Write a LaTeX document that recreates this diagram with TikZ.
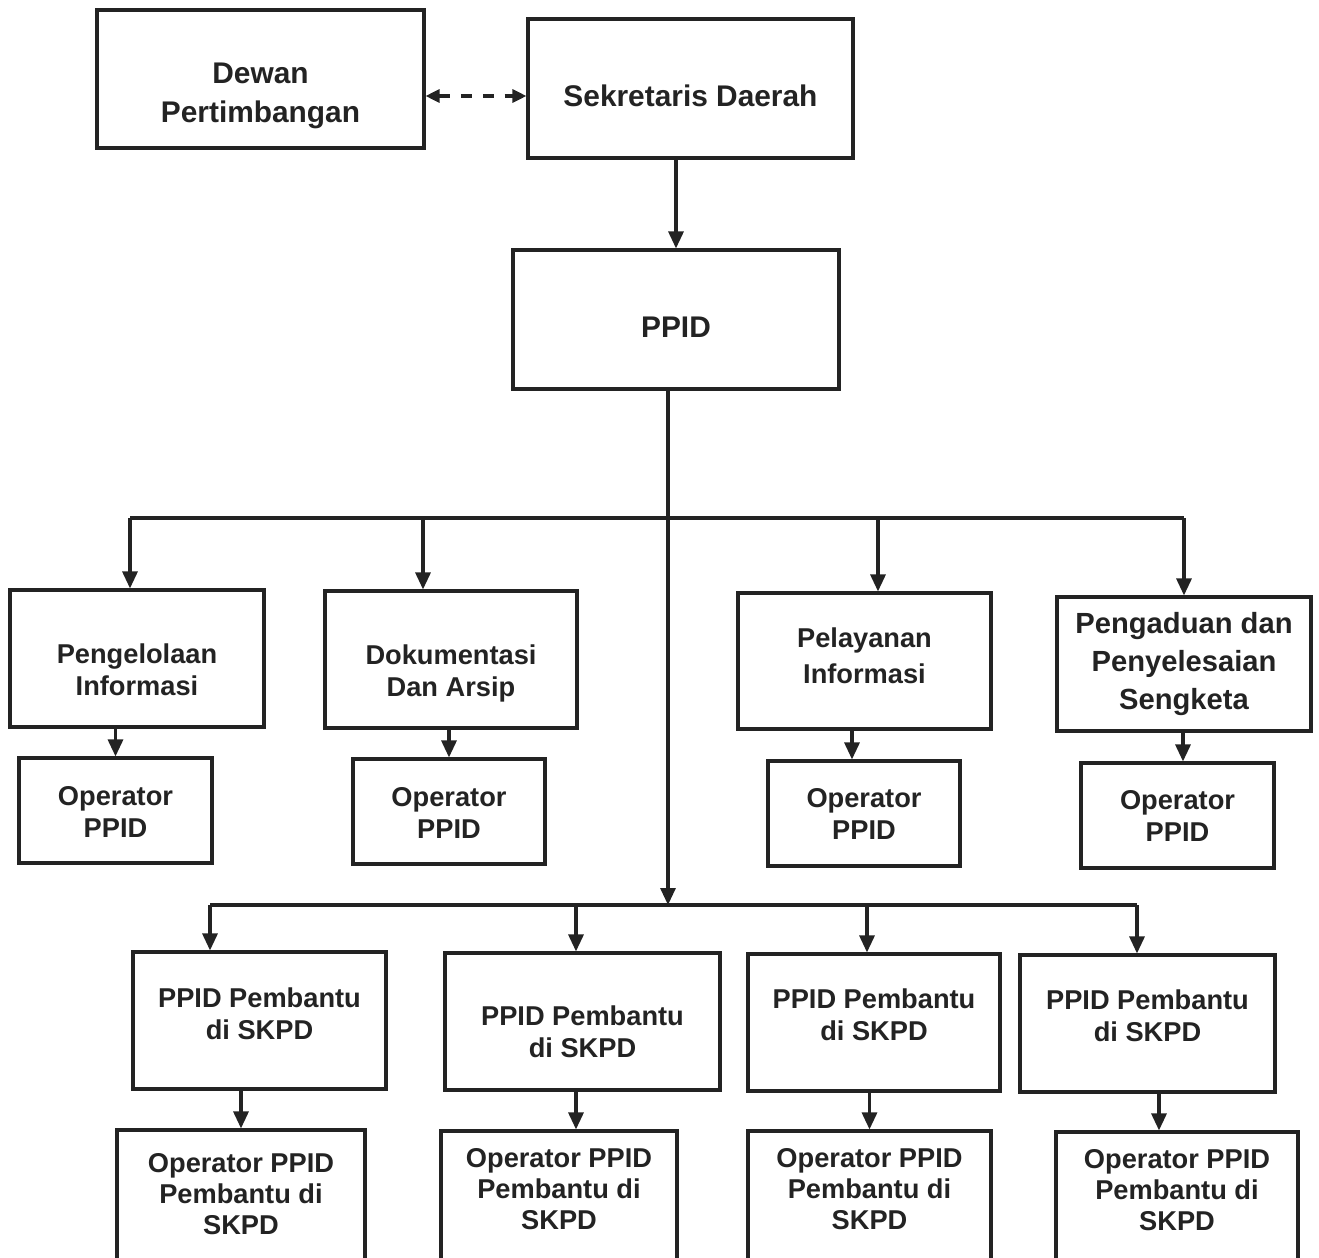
\documentclass[tikz,border=0pt]{standalone}
\usepackage{fontspec}
\setmainfont{Liberation Sans}
\usetikzlibrary{arrows.meta, positioning, calc}
\definecolor{inkDark}{HTML}{232323}
% text lifted by #1 inside a box of fixed size
\newcommand{\boxtext}[2]{\raisebox{#1}[\height][\depth]{\begin{tabular}{@{}c@{}}#2\end{tabular}}}
\tikzset{
  box/.style={draw=inkDark, line width=1.8pt, fill=white, align=center, text=inkDark,
              inner sep=0pt, font=\bfseries\fontsize{15.5}{18.2}\selectfont},
  bigbox/.style={box, font=\bfseries\fontsize{17}{22}\selectfont},
  wire/.style={draw=inkDark, line width=1.8pt},
  arrow/.style={wire, -{Triangle[length=0.34cm, width=0.3cm]}},
  link/.style={wire, {Triangle[length=0.28cm, width=0.26cm]}-{Triangle[length=0.28cm, width=0.26cm]},
               dash pattern=on 0.22cm off 0.22cm},
}

\begin{document}
\begin{tikzpicture}[x=0.02cm, y=-0.02cm]
\useasboundingbox (0,0) rectangle (1319,1258);
% top
\node[bigbox, minimum width=6.54cm, minimum height=2.76cm] (dewan) at (260.5,79) {\boxtext{-0.32cm}{Dewan\\Pertimbangan}};
\node[bigbox, minimum width=6.5cm, minimum height=2.78cm] (sek) at (690.5,88.5) {\boxtext{-0.2cm}{Sekretaris Daerah}};
\node[bigbox, minimum width=6.52cm, minimum height=2.78cm] (ppid) at (676,319.5) {\boxtext{-0.2cm}{PPID}};
% bidang
\node[box, minimum width=5.08cm, minimum height=2.74cm] (peng) at (137,658.5) {\boxtext{-0.3cm}{Pengelolaan\\Informasi}};
\node[box, minimum width=5.04cm, minimum height=2.74cm] (dok) at (451,659.5) {\boxtext{-0.3cm}{Dokumentasi\\Dan Arsip}};
\node[box, minimum width=5.06cm, minimum height=2.72cm, font=\bfseries\fontsize{15.5}{20.5}\selectfont] (pel) at (864.5,661) {\boxtext{0.06cm}{Pelayanan\\Informasi}};
\node[bigbox, minimum width=5.08cm, minimum height=2.68cm, font=\bfseries\fontsize{16.6}{21.6}\selectfont] (adu) at (1184,664) {\boxtext{0cm}{Pengaduan dan\\Penyelesaian\\Sengketa}};
\node[box, minimum width=3.86cm, minimum height=2.1cm] (op1) at (115.5,810.5) {\boxtext{-0.09cm}{Operator\\PPID}};
\node[box, minimum width=3.84cm, minimum height=2.1cm] (op2) at (449,811.5) {\boxtext{-0.09cm}{Operator\\PPID}};
\node[box, minimum width=3.84cm, minimum height=2.1cm] (op3) at (864,813.5) {\boxtext{-0.08cm}{Operator\\PPID}};
\node[box, minimum width=3.86cm, minimum height=2.1cm] (op4) at (1177.5,815.5) {\boxtext{-0.08cm}{Operator\\PPID}};
% pembantu
\node[box, minimum width=5.06cm, minimum height=2.74cm] (pp1) at (259.5,1020.5) {\boxtext{0.06cm}{PPID Pembantu\\di SKPD}};
\node[box, minimum width=5.5cm, minimum height=2.74cm] (pp2) at (582.5,1021.5) {\boxtext{-0.28cm}{PPID Pembantu\\di SKPD}};
\node[box, minimum width=5.04cm, minimum height=2.74cm] (pp3) at (874,1022.5) {\boxtext{0.08cm}{PPID Pembantu\\di SKPD}};
\node[box, minimum width=5.1cm, minimum height=2.74cm] (pp4) at (1147.5,1023.5) {\boxtext{0.08cm}{PPID Pembantu\\di SKPD}};
\node[box, minimum width=4.96cm, minimum height=2.8cm, font=\bfseries\fontsize{15.5}{17.6}\selectfont] (opp1) at (241,1200) {\boxtext{0.06cm}{Operator PPID\\Pembantu di\\SKPD}};
\node[box, minimum width=4.72cm, minimum height=2.8cm, font=\bfseries\fontsize{15.5}{17.6}\selectfont] (opp2) at (559,1201) {\boxtext{0.18cm}{Operator PPID\\Pembantu di\\SKPD}};
\node[box, minimum width=4.86cm, minimum height=2.8cm, font=\bfseries\fontsize{15.5}{17.6}\selectfont] (opp3) at (869.5,1201) {\boxtext{0.18cm}{Operator PPID\\Pembantu di\\SKPD}};
\node[box, minimum width=4.84cm, minimum height=2.8cm, font=\bfseries\fontsize{15.5}{17.6}\selectfont] (opp4) at (1177,1202) {\boxtext{0.18cm}{Operator PPID\\Pembantu di\\SKPD}};

\coordinate (hub1) at (668,518);
\coordinate (hub2) at (668,905);

\draw[link] ([yshift=-0.34cm]dewan.east) -- ([yshift=-0.34cm]dewan.east -| sek.west);
\draw[arrow] (ppid.north |- sek.south) -- (ppid.north);
\draw[arrow] (ppid.south -| hub1) -- (hub2);

% first bus
\draw[wire] ([xshift=-0.14cm]peng.north |- hub1) -- (adu.north |- hub1);
\draw[arrow] ([xshift=-0.14cm]peng.north |- hub1) -- ([xshift=-0.14cm]peng.north);
\draw[arrow] ([xshift=-0.56cm]dok.north |- hub1) -- ([xshift=-0.56cm]dok.north);
\draw[arrow] ([xshift=0.27cm]pel.north |- hub1) -- ([xshift=0.27cm]pel.north);
\draw[arrow] (adu.north |- hub1) -- (adu.north);
\draw[arrow] (op1.north |- peng.south) -- (op1.north);
\draw[arrow] (op2.north |- dok.south) -- (op2.north);
\draw[arrow] ([xshift=-0.24cm]op3.north |- pel.south) -- ([xshift=-0.24cm]op3.north);
\draw[arrow] ([xshift=0.11cm]op4.north |- adu.south) -- ([xshift=0.11cm]op4.north);

% second bus
\draw[wire] ([xshift=-0.99cm]pp1.north |- hub2) -- ([xshift=-0.21cm]pp4.north |- hub2);
\draw[arrow] ([xshift=-0.99cm]pp1.north |- hub2) -- ([xshift=-0.99cm]pp1.north);
\draw[arrow] ([xshift=-0.13cm]pp2.north |- hub2) -- ([xshift=-0.13cm]pp2.north);
\draw[arrow] ([xshift=-0.14cm]pp3.north |- hub2) -- ([xshift=-0.14cm]pp3.north);
\draw[arrow] ([xshift=-0.21cm]pp4.north |- hub2) -- ([xshift=-0.21cm]pp4.north);
\draw[arrow] (opp1.north |- pp1.south) -- (opp1.north);
\draw[arrow] ([xshift=0.34cm]opp2.north |- pp2.south) -- ([xshift=0.34cm]opp2.north);
\draw[arrow] (opp3.north |- pp3.south) -- (opp3.north);
\draw[arrow] ([xshift=-0.36cm]opp4.north |- pp4.south) -- ([xshift=-0.36cm]opp4.north);
\end{tikzpicture}
\end{document}
